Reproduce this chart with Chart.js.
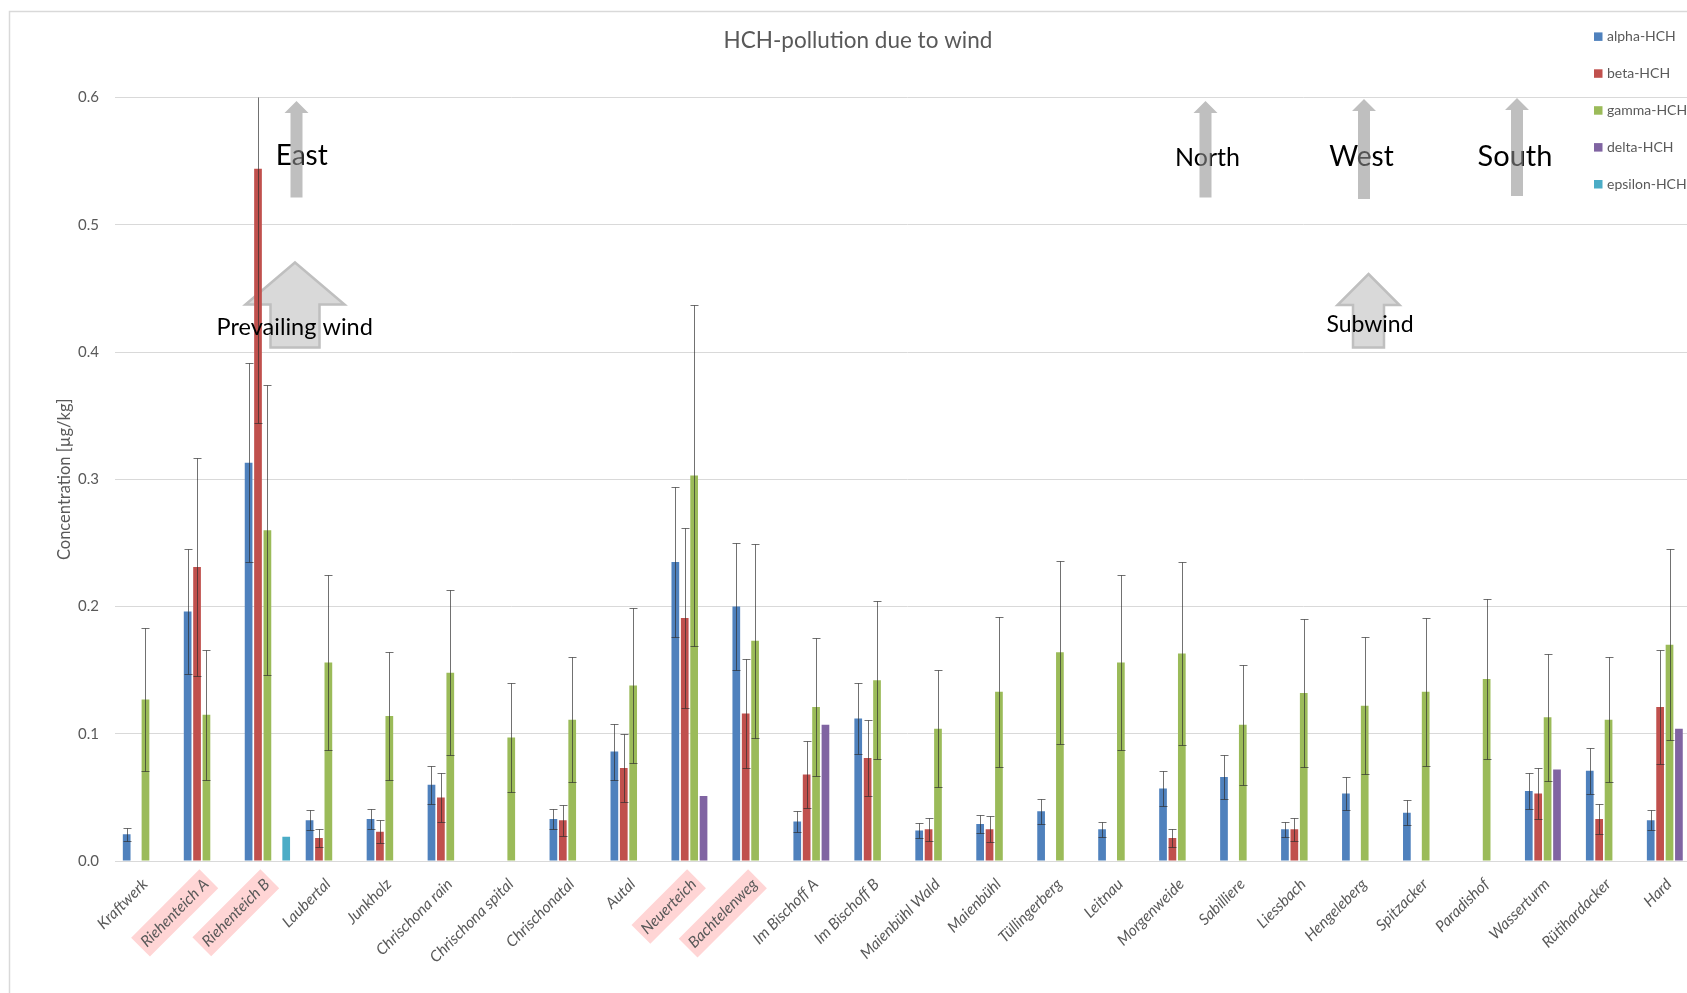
<!DOCTYPE html>
<html>
<head>
<meta charset="utf-8">
<title>HCH-pollution due to wind</title>
<script src="https://cdn.jsdelivr.net/npm/chart.js@4/dist/chart.umd.min.js"></script>
<style>
  html, body { margin: 0; padding: 0; background: #fff; overflow: hidden; width: 1687px; height: 993px; }
  #wrap { position: absolute; left: 0; top: 0; width: 1720px; height: 993px; }
  canvas { display: block; }
</style>
</head>
<body>
<div id="wrap"><canvas id="chart" width="1720" height="993"></canvas></div>
<script>
// Sampling sites
const categories = [
  'Kraftwerk', 'Riehenteich A', 'Riehenteich B', 'Laubertal', 'Junkholz', 'Chrischona rain',
  'Chrischona spital', 'Chrischonatal', 'Autal', 'Neuerteich', 'Bachtelenweg', 'Im Bischoff A',
  'Im Bischoff B', 'Maienbühl Wald', 'Maienbühl', 'Tüllingerberg', 'Leitnau', 'Morgenweide',
  'Sabilliere', 'Liessbach', 'Hengeleberg', 'Spitzacker', 'Paradishof', 'Wasserturm',
  'Rütihardacker', 'Hard'
];

// Sites flagged in the axis labels
const highlighted = ['Riehenteich A', 'Riehenteich B', 'Neuerteich', 'Bachtelenweg'];

// Mean concentrations [µg/kg] and their standard deviations (null = not detected)
const alpha    = [0.021, 0.196, 0.313, 0.032, 0.033, 0.060, null, 0.033, 0.086, 0.235, 0.200, 0.031, 0.112,
                  0.024, 0.029, 0.039, 0.025, 0.057, 0.066, 0.025, 0.053, 0.038, null, 0.055, 0.071, 0.032];
const alphaErr = [0.005, 0.049, 0.078, 0.008, 0.008, 0.015, null, 0.008, 0.022, 0.059, 0.050, 0.008, 0.028,
                  0.006, 0.007, 0.010, 0.006, 0.014, 0.017, 0.006, 0.013, 0.010, null, 0.014, 0.018, 0.008];

const beta     = [null, 0.231, 0.544, 0.018, 0.023, 0.050, null, 0.032, 0.073, 0.191, 0.116, 0.068, 0.081,
                  0.025, 0.025, null, null, 0.018, null, 0.025, null, null, null, 0.053, 0.033, 0.121];
const betaErr  = [null, 0.086, 0.200, 0.007, 0.009, 0.019, null, 0.012, 0.027, 0.071, 0.043, 0.026, 0.030,
                  0.009, 0.010, null, null, 0.007, null, 0.009, null, null, null, 0.020, 0.012, 0.045];

const gamma    = [0.127, 0.115, 0.260, 0.156, 0.114, 0.148, 0.097, 0.111, 0.138, 0.303, 0.173, 0.121, 0.142,
                  0.104, 0.133, 0.164, 0.156, 0.163, 0.107, 0.132, 0.122, 0.133, 0.143, 0.113, 0.111, 0.170];
const gammaErr = [0.056, 0.051, 0.114, 0.069, 0.050, 0.065, 0.043, 0.049, 0.061, 0.134, 0.076, 0.054, 0.062,
                  0.046, 0.059, 0.072, 0.069, 0.072, 0.047, 0.058, 0.054, 0.058, 0.063, 0.050, 0.049, 0.075];

const delta    = [null, null, null, null, null, null, null, null, null, 0.051, null, 0.107, null,
                  null, null, null, null, null, null, null, null, null, null, 0.072, null, 0.104];
const deltaErr = categories.map(() => null);

const epsilon    = [null, null, 0.019, null, null, null, null, null, null, null, null, null, null,
                    null, null, null, null, null, null, null, null, null, null, null, null, null];
const epsilonErr = categories.map(() => null);

// Value axis
const yMin = 0, yMax = 0.6, yStep = 0.1;

const seriesLabels = ['alpha-HCH', 'beta-HCH', 'gamma-HCH', 'delta-HCH', 'epsilon-HCH'];
const seriesValues = [alpha, beta, gamma, delta, epsilon];
const seriesErrors = [alphaErr, betaErr, gammaErr, deltaErr, epsilonErr];
const seriesColors = ['#4f81bd', '#c0504d', '#9bbb59', '#8064a2', '#4bacc6'];

const FONT = 'Lato, "Open Sans", sans-serif';
const TEXT_GREY = '#595959';

// Wind-direction callouts drawn on top of the plot (canvas pixels)
const thinArrows = [
  { cx: 296.5, tip: 101, base: 113, bottom: 197.5 },
  { cx: 1205.5, tip: 101, base: 113, bottom: 197.5 },
  { cx: 1364, tip: 99, base: 111, bottom: 199 },
  { cx: 1517, tip: 98, base: 110, bottom: 196 }
];
const blockArrows = [
  { cx: 295, tip: 262.5, base: 304.5, headHalf: 49.5, shaftHalf: 24.5, bottom: 347.5 },
  { cx: 1368.5, tip: 274, base: 305, headHalf: 31, shaftHalf: 15.5, bottom: 347.5 }
];
const callouts = [
  { text: 'East', x: 301.7, y: 165, size: 28 },
  { text: 'North', x: 1207.5, y: 165.5, size: 25 },
  { text: 'West', x: 1361.5, y: 165.5, size: 28 },
  { text: 'South', x: 1515, y: 165.5, size: 29 },
  { text: 'Prevailing wind', x: 294.7, y: 335, size: 23.5 },
  { text: 'Subwind', x: 1370, y: 331.5, size: 23 }
];

// Outer frame of the chart
const framePlugin = {
  id: 'frame',
  beforeDraw(chart) {
    const ctx = chart.ctx;
    ctx.save();
    ctx.strokeStyle = '#d9d9d9';
    ctx.lineWidth = 1.5;
    ctx.beginPath();
    ctx.moveTo(9.5, chart.height + 2);
    ctx.lineTo(9.5, 11.5);
    ctx.lineTo(chart.width + 2, 11.5);
    ctx.stroke();
    ctx.restore();
  }
};

// Big outlined arrows sit behind the bars
const blockArrowPlugin = {
  id: 'blockArrows',
  beforeDatasetsDraw(chart) {
    const ctx = chart.ctx;
    ctx.save();
    ctx.fillStyle = '#d9d9d9';
    ctx.strokeStyle = '#bfbfbf';
    ctx.lineWidth = 2.5;
    ctx.lineJoin = 'miter';
    blockArrows.forEach(a => {
      ctx.beginPath();
      ctx.moveTo(a.cx, a.tip);
      ctx.lineTo(a.cx + a.headHalf, a.base);
      ctx.lineTo(a.cx + a.shaftHalf, a.base);
      ctx.lineTo(a.cx + a.shaftHalf, a.bottom);
      ctx.lineTo(a.cx - a.shaftHalf, a.bottom);
      ctx.lineTo(a.cx - a.shaftHalf, a.base);
      ctx.lineTo(a.cx - a.headHalf, a.base);
      ctx.closePath();
      ctx.fill();
      ctx.stroke();
    });
    ctx.restore();
  }
};

// Symmetric error bars with caps, clipped to the plot area
const errorBarPlugin = {
  id: 'errorBars',
  afterDatasetsDraw(chart) {
    const { ctx, chartArea: area, scales: { y } } = chart;
    ctx.save();
    ctx.beginPath();
    ctx.rect(area.left, area.top, area.right - area.left, area.bottom - area.top);
    ctx.clip();
    ctx.strokeStyle = 'rgba(45,45,45,0.68)';
    ctx.lineWidth = 1;
    chart.data.datasets.forEach((ds, i) => {
      const meta = chart.getDatasetMeta(i);
      meta.data.forEach((bar, j) => {
        const v = ds.data[j];
        const e = ds.errors[j];
        if (v == null || e == null) return;
        const x = Math.round(bar.x) + 0.5;
        const yTop = Math.round(y.getPixelForValue(v + e)) + 0.5;
        const yBot = Math.round(y.getPixelForValue(v - e)) + 0.5;
        ctx.beginPath();
        ctx.moveTo(x, yTop); ctx.lineTo(x, yBot);
        ctx.moveTo(x - 4, yTop); ctx.lineTo(x + 4, yTop);
        ctx.moveTo(x - 4, yBot); ctx.lineTo(x + 4, yBot);
        ctx.stroke();
      });
    });
    ctx.restore();
  }
};

// Callout texts, the translucent direction arrows over them, and the legend
const overlayPlugin = {
  id: 'overlay',
  afterDraw(chart) {
    const ctx = chart.ctx;
    ctx.save();
    ctx.fillStyle = '#000';
    ctx.textAlign = 'center';
    ctx.textBaseline = 'alphabetic';
    callouts.forEach(c => {
      ctx.font = `${c.size}px ${FONT}`;
      ctx.fillText(c.text, c.x, c.y);
    });

    ctx.fillStyle = 'rgba(145,145,145,0.58)';
    thinArrows.forEach(a => {
      ctx.beginPath();
      ctx.moveTo(a.cx, a.tip);
      ctx.lineTo(a.cx + 12, a.base);
      ctx.lineTo(a.cx + 6, a.base);
      ctx.lineTo(a.cx + 6, a.bottom);
      ctx.lineTo(a.cx - 6, a.bottom);
      ctx.lineTo(a.cx - 6, a.base);
      ctx.lineTo(a.cx - 12, a.base);
      ctx.closePath();
      ctx.fill();
    });

    // Legend
    ctx.textAlign = 'left';
    ctx.textBaseline = 'middle';
    ctx.font = `14px ${FONT}`;
    chart.data.datasets.forEach((ds, i) => {
      const yy = 36.7 + i * 36.9;
      ctx.fillStyle = ds.backgroundColor;
      ctx.fillRect(1594, yy - 4.3, 8.5, 8.5);
      ctx.fillStyle = TEXT_GREY;
      ctx.fillText(ds.label, 1607, yy);
    });
    ctx.restore();
  }
};

function build() {
  const ctx = document.getElementById('chart').getContext('2d');
  new Chart(ctx, {
    type: 'bar',
    data: {
      labels: categories,
      datasets: seriesLabels.map((label, i) => ({
        label,
        data: seriesValues[i],
        errors: seriesErrors[i],
        backgroundColor: seriesColors[i],
        borderWidth: 0,
        barPercentage: 0.82,
        categoryPercentage: 0.771
      }))
    },
    options: {
      responsive: false,
      animation: false,
      devicePixelRatio: 1,
      layout: { padding: { left: 16, right: 20, top: 0, bottom: 0 } },
      plugins: {
        legend: { display: false },
        tooltip: { enabled: false },
        title: {
          display: true,
          text: 'HCH-pollution due to wind',
          color: TEXT_GREY,
          font: { family: FONT, size: 22.5, weight: 'normal' },
          padding: { top: 27, bottom: 43.5 }
        }
      },
      scales: {
        x: {
          grid: { display: false, drawTicks: false },
          border: { display: true, color: '#d9d9d9', width: 1 },
          ticks: {
            autoSkip: false,
            maxRotation: 45,
            minRotation: 45,
            padding: 14,
            labelOffset: -7,
            color: TEXT_GREY,
            font: { family: FONT, size: 15.5, style: 'italic' },
            showLabelBackdrop: true,
            backdropPadding: { top: 4, bottom: 4, left: 4, right: 4 },
            backdropColor: (c) => highlighted.includes(categories[c.index]) ? '#ffd5d5' : 'rgba(0,0,0,0)'
          },
          afterFit: (scale) => { scale.height = 132; }
        },
        y: {
          min: yMin,
          max: yMax,
          grid: { color: '#d9d9d9', lineWidth: 1, drawTicks: false },
          border: { display: false },
          ticks: {
            stepSize: yStep,
            padding: 16,
            color: TEXT_GREY,
            font: { family: FONT, size: 15 },
            callback: (v) => Number(v).toFixed(1)
          },
          title: {
            display: true,
            text: 'Concentration [µg/kg]',
            color: TEXT_GREY,
            font: { family: FONT, size: 16.5 },
            padding: { top: 39, bottom: 0 }
          },
          afterFit: (scale) => { scale.width = 99; }
        }
      }
    },
    plugins: [framePlugin, blockArrowPlugin, errorBarPlugin, overlayPlugin]
  });
}

const fontLoads = ['15px Lato', 'italic 15px Lato', '28px Lato'].map(f => document.fonts.load(f).catch(() => null));
Promise.all(fontLoads).then(build, build);
</script>
</body>
</html>
